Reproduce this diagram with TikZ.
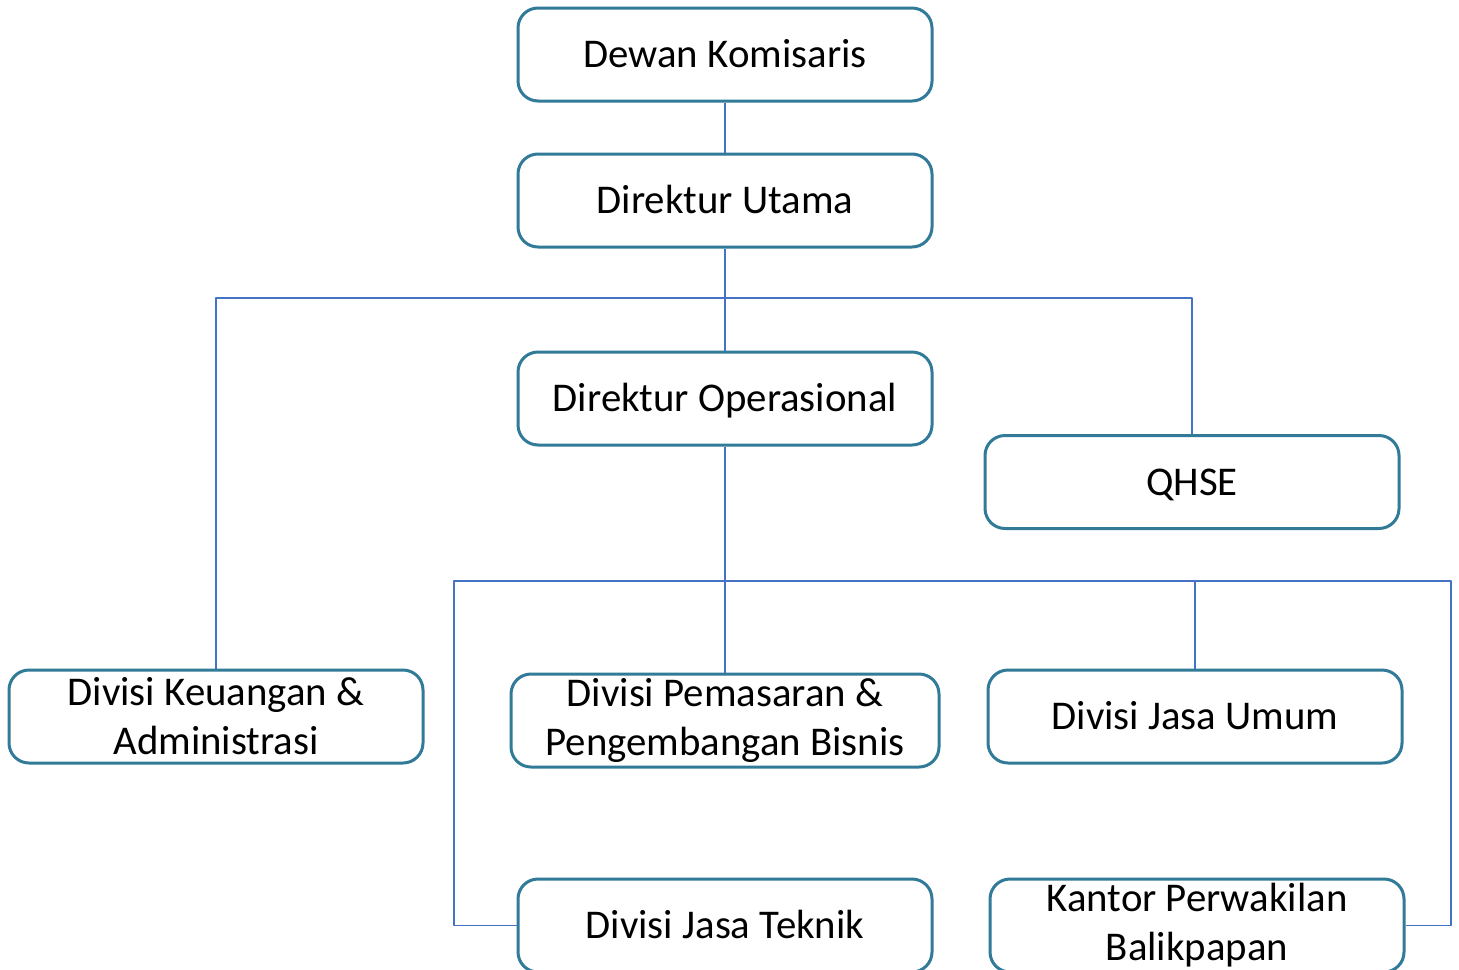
\documentclass[tikz,border=0pt]{standalone}
\usepackage{fontspec}
\setmainfont{Carlito}
\definecolor{boxline}{RGB}{49,122,152}
\definecolor{linkline}{RGB}{68,114,196}
\begin{document}
\begin{tikzpicture}[x=0.5pt,y=-0.5pt,line join = round,
	unit/.style={draw=boxline,line width=1.5pt,rounded corners=10pt,minimum width=207pt,minimum height=46.5pt,align=center,inner sep=2pt,font=\fontsize{20.4}{24.5}\selectfont},
	oneline/.style={unit,text height=13pt,text depth=0pt},
	link/.style={draw=linkline,line width=0.6pt}]
	
	\def \W{1459};
	\def \H{969};
	\useasboundingbox (0,0) rectangle (\W,\H);
	\clip (0,0) rectangle (\W,\H);
	\node[oneline] (dk) at (725,54.5) {Dewan Komisaris};
	\node[oneline] (du) at (725,200.5) {Direktur Utama};
	\node[oneline] (do) at (725,398.5) {Direktur Operasional};
	\node[oneline] (qhse) at (1192,482) {QHSE};
	\node[unit] (keu) at (216,716.5) {Divisi Keuangan \&\\Administrasi};
	\node[unit,minimum width=214pt] (pem) at (725,720.5) {Divisi Pemasaran \&\\Pengembangan Bisnis};
	\node[oneline] (umum) at (1195,716.5) {Divisi Jasa Umum};
	\node[oneline] (tek) at (725,925.5) {Divisi Jasa Teknik};
	\node[unit] (kan) at (1197,925.5) {Kantor Perwakilan\\Balikpapan};
	\coordinate (bus1) at (725,298);
	\coordinate (bus2) at (725,581);
	\coordinate (bl) at (454,581);
	\coordinate (br) at (1451,581);
	\draw[link] (dk) -- (du);
	\draw[link] (du) -- (do);
	\draw[link] (keu.north) |- (bus1) -| (qhse.north);
	\draw[link] (do) -- (pem);
	\draw[link] (umum.north) -- (umum.north |- bus2);
	\draw[link] (tek.west) -| (bl) -- (br) |- (kan.east);
\end{tikzpicture}
\end{document}
